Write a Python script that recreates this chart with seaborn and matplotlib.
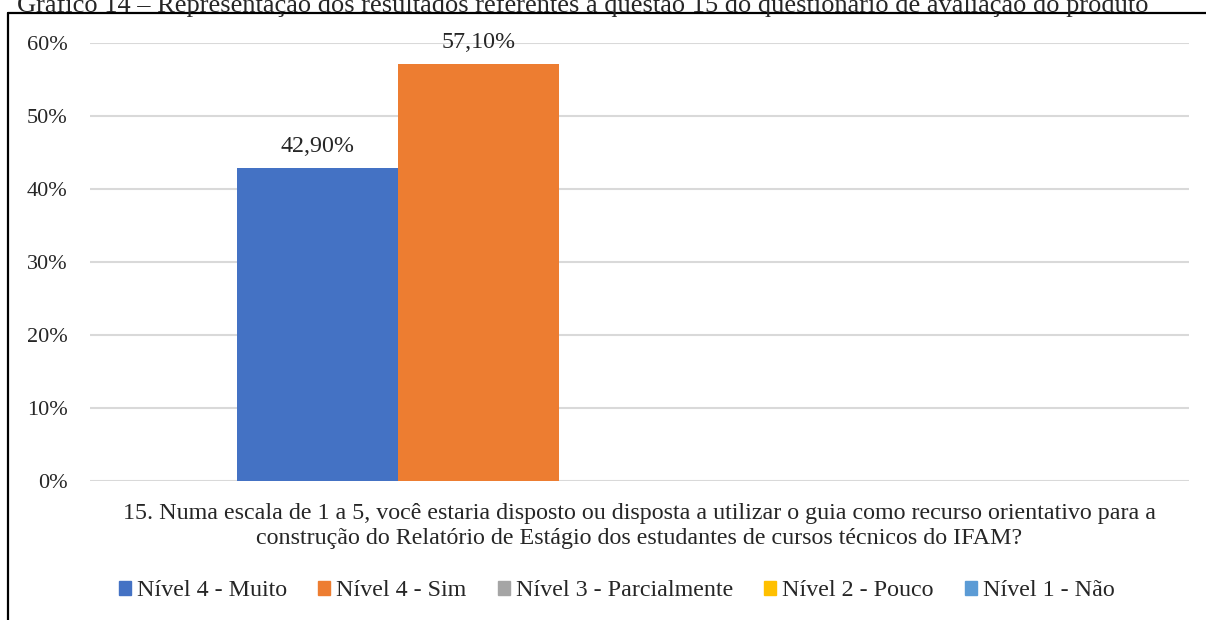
import matplotlib.pyplot as plt
import matplotlib.lines as mlines
import matplotlib.patches as mpatches
import pandas as pd
import seaborn as sns

# ---- data ----
categoria = ("15. Numa escala de 1 a 5, você estaria disposto ou disposta a utilizar o guia como recurso orientativo para a\n"
             "construção do Relatório de Estágio dos estudantes de cursos técnicos do IFAM?")
series = ["Nível 4 - Muito", "Nível 4 - Sim", "Nível 3 - Parcialmente", "Nível 2 - Pouco", "Nível 1 - Não"]
valores = [0.429, 0.571, 0.0, 0.0, 0.0]
cores = ["#4472C4", "#ED7D31", "#A5A5A5", "#FFC000", "#5B9BD5"]
yticks = [0, 0.1, 0.2, 0.3, 0.4, 0.5, 0.6]
titulo = "Gráfico 14 – Representação dos resultados referentes à questão 15 do questionário de avaliação do produto"

df = pd.DataFrame({"categoria": [categoria] * len(series), "serie": series, "valor": valores})

sns.set_theme(style="white")
plt.rcParams["font.family"] = ["Liberation Serif", "DejaVu Serif"]
FS_TICK = 16
FS = 17.3

W, H = 1206, 620
fig = plt.figure(figsize=(W / 100, H / 100), dpi=100)
ax = fig.add_axes([90 / W, 1 - 481 / H, (1189 - 90) / W, (481 - 43) / H])

sns.barplot(data=df, x="categoria", y="valor", hue="serie", hue_order=series,
            palette=cores, width=0.733, gap=0, saturation=1, linewidth=0,
            ax=ax, legend=False)

ax.set_ylim(0, 0.6)
ax.set_xlim(-0.5, 0.5)
ax.set_yticks(yticks)
ax.set_yticklabels([f"{int(round(t * 100))}%" for t in yticks], fontsize=FS_TICK)
ax.tick_params(axis="y", length=0, pad=16)
ax.tick_params(axis="x", length=0, pad=16, labelsize=FS)
for lbl in ax.get_xticklabels():
    lbl.set_linespacing(1.25)
ax.set_xlabel("")
ax.set_ylabel("")
for s in ax.spines.values():
    s.set_visible(False)
ax.grid(axis="y", color="#D9D9D9", linewidth=1.5)
ax.set_axisbelow(True)

# data labels (only non-zero)
for cont in ax.containers:
    for bar in cont:
        h = bar.get_height()
        if h > 0:
            ax.annotate(f"{h * 100:.2f}%".replace(".", ","),
                        (bar.get_x() + bar.get_width() / 2, h),
                        xytext=(0, 8), textcoords="offset points",
                        ha="center", va="bottom", fontsize=FS)

# legend
handles = [mpatches.Patch(color=c, label=s) for s, c in zip(series, cores)]
fig.legend(handles=handles, loc="center", bbox_to_anchor=(617 / W, 1 - 591 / H),
           ncol=5, frameon=False, fontsize=FS, handlelength=0.5, handleheight=0.5,
           handletextpad=0.25, columnspacing=1.3)

# outer frame (top and left lines) and cut-off caption
fig.add_artist(mlines.Line2D([8 / W, 1], [1 - 13 / H, 1 - 13 / H], color="black", lw=1.6))
fig.add_artist(mlines.Line2D([8 / W, 8 / W], [0, 1 - 13 / H], color="black", lw=1.6))
fig.text(17 / W, 1 - 12 / H, titulo, ha="left", va="baseline", fontsize=19)

fig.savefig("out.png", dpi=100)
